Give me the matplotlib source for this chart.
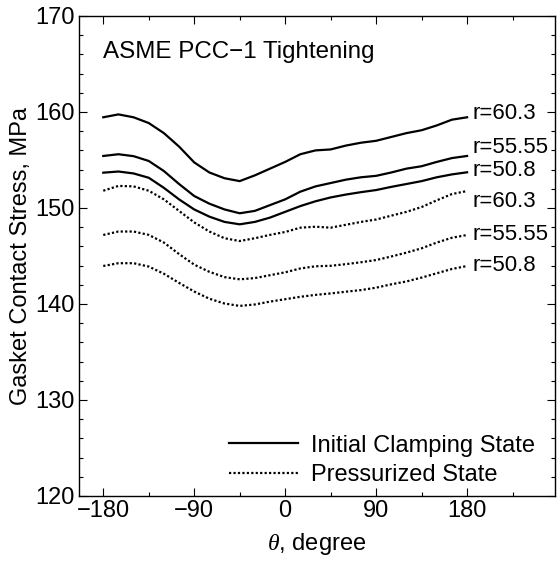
import numpy as np
import matplotlib
matplotlib.use("Agg")
import matplotlib.pyplot as plt

plt.rcParams['font.family'] = ['Liberation Sans', 'DejaVu Sans']
plt.rcParams['mathtext.fontset'] = 'custom'
plt.rcParams['mathtext.it'] = 'Liberation Serif:italic'

theta = np.arange(-180, 181, 15)

# initial clamping state
init_603 = [159.45, 159.75, 159.45, 158.85, 157.8, 156.4, 154.75, 153.7, 153.1, 152.8, 153.4, 154.1, 154.8,
            155.6, 156.0, 156.1, 156.5, 156.8, 157.0, 157.4, 157.8, 158.1, 158.6, 159.2, 159.45]
init_5555 = [155.42, 155.6, 155.4, 154.9, 153.85, 152.5, 151.25, 150.45, 149.85, 149.45, 149.7, 150.3, 150.9,
             151.7, 152.25, 152.6, 152.95, 153.2, 153.35, 153.7, 154.1, 154.35, 154.8, 155.2, 155.42]
init_508 = [153.68, 153.8, 153.6, 153.15, 152.1, 150.9, 149.85, 149.1, 148.55, 148.3, 148.55, 149.0, 149.6,
            150.2, 150.7, 151.1, 151.4, 151.65, 151.87, 152.2, 152.5, 152.8, 153.2, 153.5, 153.72]

# pressurized state
pres_603 = [151.8, 152.3, 152.25, 151.8, 150.9, 149.7, 148.5, 147.55, 146.85, 146.56, 146.85, 147.2, 147.5,
            147.95, 148.05, 147.95, 148.25, 148.55, 148.8, 149.2, 149.6, 150.1, 150.8, 151.45, 151.77]
pres_5555 = [147.19, 147.55, 147.55, 147.2, 146.4, 145.2, 144.1, 143.35, 142.8, 142.57, 142.7, 143.0, 143.3,
             143.7, 143.93, 143.98, 144.15, 144.35, 144.58, 144.95, 145.35, 145.8, 146.4, 146.9, 147.19]
pres_508 = [143.96, 144.25, 144.25, 143.9, 143.15, 142.2, 141.3, 140.55, 140.05, 139.8, 139.95, 140.25, 140.5,
            140.75, 140.95, 141.1, 141.28, 141.45, 141.7, 142.05, 142.35, 142.75, 143.2, 143.65, 143.96]

labels = ["r=60.3", "r=55.55", "r=50.8"]
lab_dy = [2.9, 5.8, 1.2, -7.2, 0.0, 0.7]   # label nudges in points

fs = 17

fig = plt.figure(figsize=(5.58, 5.61), dpi=100)
ax = fig.add_axes([79/558, 1-496/561, (555-79)/558, (496-16)/561])

init = [init_603, init_5555, init_508]
pres = [pres_603, pres_5555, pres_508]
for i, y in enumerate(init):
    ax.plot(theta, y, color='black', lw=1.6, ls='-',
            label='Initial Clamping State' if i == 0 else None)
for i, y in enumerate(pres):
    ax.plot(theta, y, color='black', lw=1.6, ls=(0, (1.0, 1.0)),
            label='Pressurized State' if i == 0 else None)

allc = init + pres
for k, y in enumerate(allc):
    ax.annotate(labels[k % 3], xy=(theta[-1], y[-1]), xytext=(3.8, lab_dy[k]),
                textcoords='offset points', ha='left', va='center', fontsize=16)

ax.text(0.05, 0.925, "ASME PCC\u22121 Tightening", transform=ax.transAxes,
        ha='left', va='center', fontsize=17.4)

ax.set_xlim(-204, 267)
ax.set_ylim(120, 170)
ax.set_xticks([-180, -90, 0, 90, 180])
ax.set_xticks(np.arange(-180, 270, 45), minor=True)
ax.set_yticks(np.arange(120, 171, 10))
ax.set_yticks(np.arange(120, 171, 2), minor=True)
ax.tick_params(which='both', direction='in', top=True, right=True, labelsize=fs, width=0.8)
ax.tick_params(which='major', length=5.8, pad=3)
ax.tick_params(which='minor', length=2.9)
for s in ax.spines.values():
    s.set_linewidth(1.0)

ax.set_xlabel(r"$\theta$, degree", fontsize=fs, labelpad=6.5)
ax.set_ylabel("Gasket Contact Stress, MPa", fontsize=fs, labelpad=2.5)

leg = ax.legend(loc='lower right', frameon=False, fontsize=fs, handlelength=2.9,
                handletextpad=0.56, labelspacing=0.3, bbox_to_anchor=(1.003, -0.023))

fig.savefig("out.png", dpi=100)
